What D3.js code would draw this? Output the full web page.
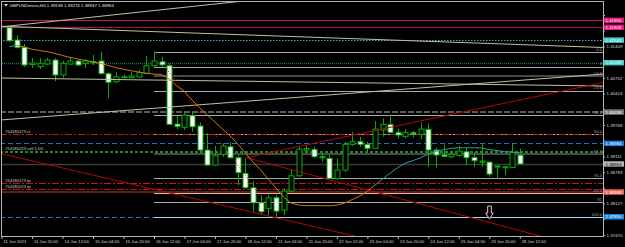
<!DOCTYPE html>
<html>
<head>
<meta charset="utf-8">
<script src="https://cdn.jsdelivr.net/npm/d3@7"></script>
<style>
  body { margin: 0; background: #000; }
  svg { display: block; font-family: 'Liberation Sans', 'DejaVu Sans', sans-serif; }
</style>
</head>
<body>
<div id="chart"></div>
<script>
// GBPUSDmicro H4, 11 Jun - 28 Jun 2021 (bar 0 = 11 Jun 08:00)
const symbol = 'GBPUSDmicro,H4';

const opens = [
    1.41800, 1.41543, 1.41390, 1.41031, 1.40985, 1.41041, 1.41125, 1.40812, 1.41041, 1.41104,
    1.41056, 1.41083, 1.41104, 1.40839, 1.40672, 1.40755, 1.40759, 1.40770, 1.40847, 1.41006,
    1.41090, 1.41006, 1.39787, 1.39718, 1.39961, 1.39746, 1.39244, 1.38931, 1.39154, 1.39313,
    1.39083, 1.38757, 1.38456, 1.38143, 1.38026, 1.38247, 1.37990, 1.38387, 1.38707, 1.39244,
    1.39259, 1.39104, 1.39071, 1.38652, 1.38826, 1.39363, 1.39418, 1.39363, 1.39280, 1.39662,
    1.39781, 1.39614, 1.39522, 1.39606, 1.39572, 1.39677, 1.39244, 1.39140, 1.39104, 1.39133,
    1.39208, 1.39091, 1.39014, 1.38993, 1.38889, 1.38874, 1.38882, 1.39138];
const highs = [
    1.41825, 1.41637, 1.41459, 1.41167, 1.41167, 1.41173, 1.41167, 1.41104, 1.41194, 1.41125,
    1.41146, 1.41230, 1.41298, 1.40868, 1.40868, 1.40826, 1.40868, 1.40916, 1.41215, 1.41298,
    1.41194, 1.41056, 1.39961, 1.40045, 1.40045, 1.39815, 1.39593, 1.39328, 1.39384, 1.39405,
    1.39140, 1.39071, 1.38596, 1.38303, 1.38303, 1.38303, 1.38444, 1.38847, 1.39313, 1.39334,
    1.39313, 1.39175, 1.39140, 1.39071, 1.39418, 1.39627, 1.39522, 1.39418, 1.39850, 1.39907,
    1.39990, 1.39698, 1.39683, 1.39641, 1.39823, 1.39802, 1.39292, 1.39363, 1.39223, 1.39334,
    1.39292, 1.39196, 1.39384, 1.39000, 1.38931, 1.38895, 1.39384, 1.39274];
const lows = [
    1.41501, 1.41365, 1.40979, 1.40958, 1.40937, 1.41021, 1.40686, 1.40755, 1.41021, 1.41000,
    1.40958, 1.41021, 1.40826, 1.40325, 1.40638, 1.40743, 1.40743, 1.40755, 1.40826, 1.40985,
    1.40985, 1.39767, 1.39683, 1.39662, 1.39627, 1.39175, 1.38924, 1.38916, 1.39104, 1.39071,
    1.38513, 1.38444, 1.37955, 1.37886, 1.37886, 1.37850, 1.37886, 1.38372, 1.38686, 1.39208,
    1.39083, 1.39000, 1.38638, 1.38617, 1.38791, 1.39334, 1.39313, 1.39196, 1.39265, 1.39522,
    1.39593, 1.39489, 1.39489, 1.39501, 1.39474, 1.38895, 1.38874, 1.39098, 1.39083, 1.39104,
    1.38931, 1.38895, 1.38895, 1.38686, 1.38652, 1.38722, 1.38868, 1.38947];
const closes = [
    1.41528, 1.41390, 1.41021, 1.41062, 1.41056, 1.41125, 1.40812, 1.41056, 1.41104, 1.41021,
    1.41104, 1.41094, 1.40839, 1.40659, 1.40770, 1.40776, 1.40791, 1.40860, 1.41006, 1.41104,
    1.41021, 1.39781, 1.39739, 1.39976, 1.39731, 1.39244, 1.38931, 1.39125, 1.39328, 1.39083,
    1.38770, 1.38456, 1.38143, 1.37955, 1.38247, 1.37969, 1.38387, 1.38707, 1.39265, 1.39275,
    1.39104, 1.39083, 1.38652, 1.38826, 1.39363, 1.39418, 1.39363, 1.39280, 1.39683, 1.39781,
    1.39614, 1.39558, 1.39614, 1.39578, 1.39683, 1.39244, 1.39140, 1.39108, 1.39154, 1.39223,
    1.39083, 1.39020, 1.38993, 1.38742, 1.38910, 1.38895, 1.39192, 1.38954];

// moving average
const maValues = [
    1.41403, 1.41434, 1.41397, 1.41349, 1.41324, 1.41298, 1.41261, 1.41219, 1.41177, 1.41146,
    1.41115, 1.41083, 1.41052, 1.41010, 1.40964, 1.40931, 1.40901, 1.40874, 1.40847, 1.40832,
    1.40822, 1.40728, 1.40582, 1.40467, 1.40289, 1.40122, 1.39976, 1.39829, 1.39683, 1.39537,
    1.39369, 1.39181, 1.38993, 1.38826, 1.38638, 1.38450, 1.38262, 1.38136, 1.38095, 1.38084,
    1.38084, 1.38084, 1.38080, 1.38095, 1.38136, 1.38209, 1.38283, 1.38387, 1.38513, 1.38638,
    1.38763, 1.38878, 1.38972, 1.39025, 1.39087, 1.39160, 1.39213, 1.39254, 1.39280, 1.39292,
    1.39292, 1.39292, 1.39286, 1.39254, 1.39234, 1.39213, 1.39202, 1.39192];

const priceTicks = [1.42065, 1.41737, 1.41409, 1.41080, 1.40752, 1.40424, 1.40096, 1.39768,
    1.39439, 1.39111, 1.38783, 1.38455, 1.38127, 1.37798, 1.37470];

const timeTickIdx = [-1, 3, 7, 11, 15, 19, 23, 27, 31, 35, 39, 43, 47, 51, 55, 59, 63, 67];
const timeLabels = ['11 Jun 2021', '11 Jun 20:00', '14 Jun 12:00', '15 Jun 04:00', '15 Jun 20:00',
    '16 Jun 12:00', '17 Jun 04:00', '17 Jun 20:00', '18 Jun 12:00', '21 Jun 04:00', '21 Jun 20:00',
    '22 Jun 12:00', '23 Jun 04:00', '23 Jun 20:00', '24 Jun 12:00', '25 Jun 04:00', '25 Jun 20:00',
    '28 Jun 12:00'];

// horizontal objects
const magentaLevels = [1.41955, 1.41808];
const cyanLevels = [1.41541, 1.41069];
const grayLevel = 1.40038;
const blueLevels = [1.39384, 1.37850];
const salmonLevel = 1.38368;
const orderPrices = [1.39578, 1.39213, 1.38548, 1.38423];
const orderLabels = ['#54180173 sl', '#54180223 sell 1.00', '#54180173 tp', '#54180223 tp'];

// fibonacci retracement
const fibBars = [19, 35];
const fibPrices = [1.41298, 1.37850];
const fibLevels = [0, 9, 14.6, 23.6, 38.2, 50, 61.8, 76.4, 85.4, 91, 100];
const fibLabels = ['0.0', '9', '14.6', '23.6', '38.2', '50.0', '61.8', '76.4', '85.4', '91', '100.0'];

// trend lines: [bar, price] pairs
const beigeLines = [
    [[-1.21, 1.41815], [33, 1.42396]],
    [[-1.21, 1.41831], [77.92, 1.41386]],
    [[-1.21, 1.40749], [77.92, 1.40582]],
    [[-1.21, 1.39871], [77.92, 1.40832]],
];
const redLines = [
    [[-1.21, 1.39175], [45.9, 1.37426]],
    [[31.1, 1.39087], [70.05, 1.37432]],
    [[31.1, 1.39087], [77.92, 1.40655]],
];
const arrowBar = 63;
const arrowPrice = 1.37802;

class TerminalChart {
    constructor(sel) {
        this.width = 625;
        this.height = 247;
        this.plot = { left: 2, right: 603, top: 2, bottom: 237 };
        this.x = d3.scaleLinear().domain([-1.21, 77.92]).range([0, 603]);
        this.y = d3.scaleLinear().domain([1.37470, 1.42065]).range([235, 15]);
        this.boxPrices = [...magentaLevels, ...cyanLevels, grayLevel, ...blueLevels,
            closes[closes.length - 1], salmonLevel];

        this.svg = d3.select(sel).append('svg')
            .attr('width', this.width)
            .attr('height', this.height)
            .style('background', '#000');

        this.svg.append('clipPath').attr('id', 'plot-clip')
            .append('rect')
            .attr('x', this.plot.left)
            .attr('y', this.plot.top)
            .attr('width', this.plot.right - this.plot.left)
            .attr('height', this.plot.bottom - this.plot.top);

        this.back = this.svg.append('g').attr('clip-path', 'url(#plot-clip)');
        this.mid = this.svg.append('g').attr('clip-path', 'url(#plot-clip)');
        this.front = this.svg.append('g').attr('clip-path', 'url(#plot-clip)');

        this.drawAxes();
        this.drawObjects();
        this.drawCandles();
        this.drawIndicators();
        this.drawBoxes();
        this.drawTitle();
    }

    py(p) {
        return Math.round(this.y(p)) + 0.5;
    }

    hline(g, price, x0, color, width, dash) {
        const yy = width >= 2 ? Math.round(this.y(price)) : this.py(price);
        g.append('line')
            .attr('x1', x0).attr('x2', this.plot.right)
            .attr('y1', yy).attr('y2', yy)
            .attr('stroke', color)
            .attr('stroke-width', width)
            .attr('stroke-dasharray', dash || null);
    }

    drawAxes() {
        // labels hidden behind the price boxes are not printed
        const covered = v => this.boxPrices.some(b => Math.abs(this.y(b) - this.y(v)) < 5.6);
        const right = this.svg.append('g')
            .attr('transform', `translate(${this.plot.right},0)`)
            .call(d3.axisRight(this.y)
                .tickValues(priceTicks)
                .tickFormat(v => (covered(v) ? '' : d3.format('.5f')(v)))
                .tickSize(2)
                .tickPadding(1.5));
        right.select('.domain').remove();
        right.selectAll('line').attr('stroke', '#b0b0b0');
        right.selectAll('text').attr('fill', '#d8d8d8').style('font-size', '4.4px');

        const bottom = this.svg.append('g')
            .attr('transform', `translate(0,${this.plot.bottom})`)
            .call(d3.axisBottom(this.x)
                .tickValues(timeTickIdx)
                .tickFormat((d, k) => timeLabels[k])
                .tickSize(2)
                .tickPadding(1.5));
        bottom.select('.domain').remove();
        bottom.selectAll('line').attr('stroke', '#b0b0b0');
        bottom.selectAll('text')
            .attr('fill', '#d8d8d8')
            .attr('text-anchor', 'start')
            .attr('dx', 1.5)
            .style('font-size', '4.2px');

        // frame
        this.svg.append('rect')
            .attr('x', this.plot.left - 0.5)
            .attr('y', this.plot.top - 0.5)
            .attr('width', this.plot.right - this.plot.left + 1)
            .attr('height', this.plot.bottom - this.plot.top)
            .attr('fill', 'none')
            .attr('stroke', '#b4b4b4')
            .attr('stroke-width', 1);
    }

    drawObjects() {
        const g = this.back;
        const fx = this.x(fibBars[0]);

        this.hline(g, magentaLevels[0], 0, '#c0166a', 1);
        this.hline(g, magentaLevels[1], 0, '#9c1052', 1);
        this.hline(g, cyanLevels[0], 0, '#3cb4b4', 1, '1.5,1.5');
        this.hline(g, cyanLevels[1], 0, '#1f6a6a', 1.5, '1,1');
        this.hline(g, grayLevel, 0, '#5a5a5a', 2, '6,2');
        this.hline(g, blueLevels[0], 0, '#1e74cc', 1, '5,3');
        this.hline(g, closes[closes.length - 1], 0, '#3c3c3c', 1.5);
        this.hline(g, salmonLevel, 0, '#5c2014', 2);
        this.hline(g, blueLevels[1], 0, '#1e74cc', 1, '5,3');

        // fibonacci levels
        const range = fibPrices[0] - fibPrices[1];
        fibLevels.forEach((lv, k) => {
            const p = fibPrices[0] - lv / 100 * range;
            let color = '#a8a8a8';
            let w = 1;
            if (lv === 14.6 || lv === 61.8) { color = '#484848'; w = 2; }
            if (lv === 85.4) color = '#f0b0a4';
            if (lv === 100) color = '#a6d8ee';
            this.hline(g, p, fx, color, w);
            g.append('text')
                .attr('x', this.plot.right - 1)
                .attr('y', this.y(p) - 1.2)
                .attr('text-anchor', 'end')
                .attr('fill', '#a0a0a0')
                .style('font-size', '4.2px')
                .text(fibLabels[k]);
        });

        // trade lines
        const orderColors = ['#c81414', '#1f8a1f', '#c81414', '#c81414'];
        orderPrices.forEach((p, k) => {
            const green = k === 1;
            this.hline(g, p, 0, orderColors[k], green ? 2 : 1, green ? '3,2' : '7,2,2,2');
            g.append('text')
                .attr('x', 5)
                .attr('y', this.y(p) - 1.3)
                .attr('fill', '#d0d0d0')
                .style('font-size', '4.2px')
                .text(orderLabels[k]);
        });
    }

    drawCandles() {
        const g = this.mid;
        const bars = d3.range(opens.length);
        const green = '#00b000';
        g.selectAll('.wick')
            .data(bars)
            .enter()
            .append('line')
            .attr('x1', i => Math.round(this.x(i)) + 0.5)
            .attr('x2', i => Math.round(this.x(i)) + 0.5)
            .attr('y1', i => this.y(highs[i]))
            .attr('y2', i => this.y(lows[i]))
            .attr('stroke', green)
            .attr('stroke-width', 1);

        g.selectAll('.body')
            .data(bars)
            .enter()
            .append('rect')
            .attr('x', i => Math.round(this.x(i)) - 2)
            .attr('y', i => this.y(Math.max(opens[i], closes[i])))
            .attr('width', 5)
            .attr('height', i => Math.max(1, Math.abs(this.y(opens[i]) - this.y(closes[i]))))
            .attr('fill', i => (closes[i] < opens[i] ? '#ffffff' : '#000000'))
            .attr('stroke', green)
            .attr('stroke-width', 1);
    }

    drawIndicators() {
        const g = this.front;
        const seg = (a, b, color, w, dash) => {
            g.append('line')
                .attr('x1', this.x(a[0])).attr('y1', this.y(a[1]))
                .attr('x2', this.x(b[0])).attr('y2', this.y(b[1]))
                .attr('stroke', color)
                .attr('stroke-width', w)
                .attr('stroke-dasharray', dash || null);
        };

        beigeLines.forEach(l => seg(l[0], l[1], '#c4bea0', 1));
        redLines.forEach(l => seg(l[0], l[1], '#b40606', 1));
        seg([fibBars[0], fibPrices[0]], [fibBars[1], fibPrices[1]], '#d01010', 1, '1,2');

        // moving average, orange while falling, teal afterwards
        const line = d3.line().x(d => this.x(d[0])).y(d => this.y(d[1]));
        const pts = maValues.map((v, i) => [i, v]);
        g.append('path').datum(pts.slice(0, 2)).attr('d', line)
            .attr('fill', 'none').attr('stroke', '#2aa0a0').attr('stroke-width', 1);
        g.append('path').datum(pts.slice(1, 49)).attr('d', line)
            .attr('fill', 'none').attr('stroke', '#c87818').attr('stroke-width', 1);
        g.append('path').datum(pts.slice(48)).attr('d', line)
            .attr('fill', 'none').attr('stroke', '#2aa0a0').attr('stroke-width', 1);

        // down arrow marker
        const ax = Math.round(this.x(arrowBar)) + 0.5;
        const ay = this.y(arrowPrice);
        const arrow = `M${ax - 1.8},${ay - 13} L${ax + 1.8},${ay - 13} L${ax + 1.8},${ay - 6}`
            + ` L${ax + 3.8},${ay - 6} L${ax},${ay} L${ax - 3.8},${ay - 6} L${ax - 1.8},${ay - 6} Z`;
        g.append('path')
            .attr('d', arrow)
            .attr('fill', '#000')
            .attr('stroke', '#ffb8cc')
            .attr('stroke-width', 1);
    }

    drawBoxes() {
        const g = this.svg.append('g');
        const box = (price, fill, ink) => {
            const yy = this.y(price);
            g.append('rect')
                .attr('x', this.plot.right + 1)
                .attr('y', yy - 2.7)
                .attr('width', 20)
                .attr('height', 5.4)
                .attr('fill', fill);
            g.append('text')
                .attr('x', this.plot.right + 2.5)
                .attr('y', yy)
                .attr('dy', '0.36em')
                .attr('fill', ink)
                .style('font-size', '4.4px')
                .text(price.toFixed(5));
        };
        box(magentaLevels[0], '#e8167c', '#fff');
        box(magentaLevels[1], '#e8167c', '#fff');
        box(cyanLevels[0], '#46cccc', '#fff');
        box(cyanLevels[1], '#46cccc', '#fff');
        box(grayLevel, '#7a7a7a', '#fff');
        box(blueLevels[0], '#1e7ad4', '#fff');
        box(closes[closes.length - 1], '#b4b4b4', '#000');
        box(salmonLevel, '#f06a58', '#fff');
        box(blueLevels[1], '#1e8ae0', '#fff');
    }

    drawTitle() {
        const last = opens.length - 1;
        const ohlc = [opens[last], highs[last], lows[last], closes[last]].map(v => v.toFixed(5)).join(' ');
        this.svg.append('path')
            .attr('d', 'M4,4 L8,4 L6,6.5 Z')
            .attr('fill', '#e0e0e0');
        this.svg.append('text')
            .attr('x', 9.5)
            .attr('y', 6.8)
            .attr('fill', '#e8e8e8')
            .style('font-size', '4.4px')
            .text(`${symbol}  ${ohlc}`);
    }
}

new TerminalChart('#chart');
</script>
</body>
</html>
